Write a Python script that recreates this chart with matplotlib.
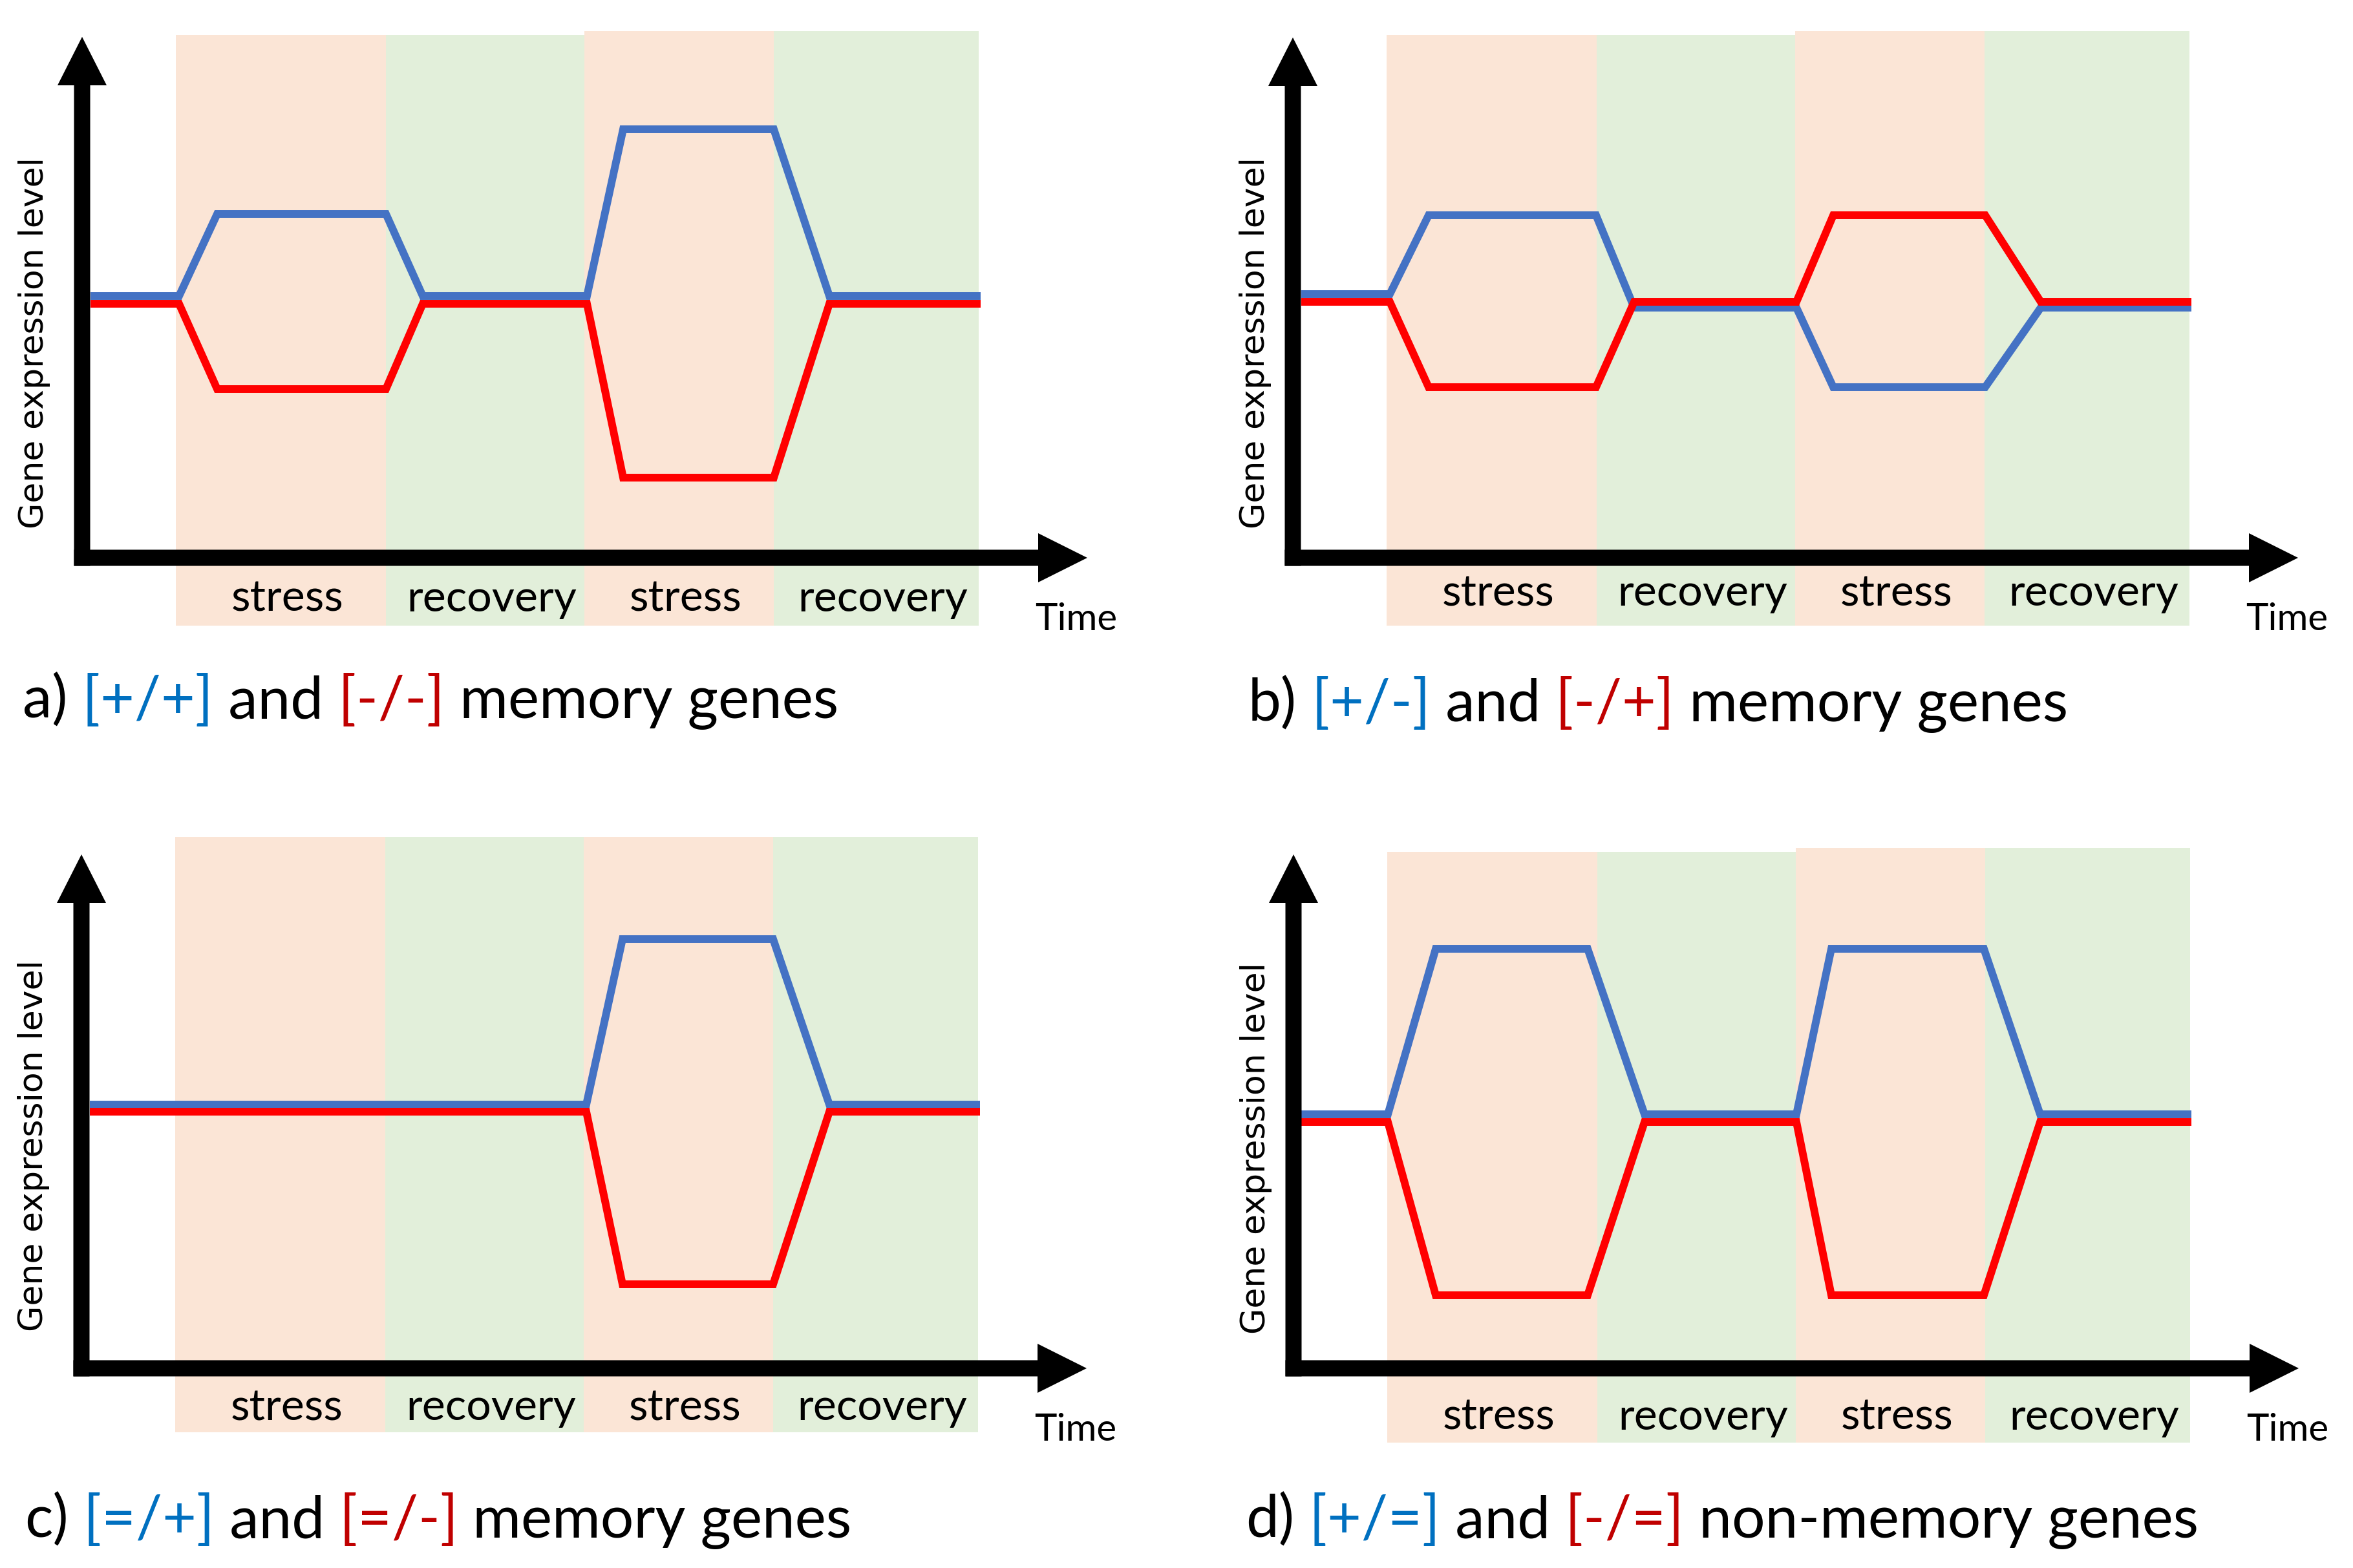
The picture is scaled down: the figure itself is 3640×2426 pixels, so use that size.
import matplotlib
matplotlib.use('Agg')
import matplotlib.pyplot as plt
from matplotlib import transforms

plt.rcParams['font.family'] = ['Lato', 'DejaVu Sans']

# --- data -------------------------------------------------------------
# phases along the time axis (shared by the four panels)
phase_edges = [1.45, 4.70, 7.77, 10.70, 13.87]
phase_names = ['stress', 'recovery', 'stress', 'recovery']
phase_colors = ['#FBE5D6', '#E2EFDA', '#FBE5D6', '#E2EFDA']

# bend points of the two expression curves, per panel
t_a = [0.13, 1.50, 2.09, 4.70, 5.27, 7.81, 8.37, 10.70, 11.56, 13.90]
blue_a = [4.05, 4.05, 5.32, 5.32, 4.05, 4.05, 6.63, 6.63, 4.05, 4.05]
red_a = [3.93, 3.93, 2.61, 2.61, 3.93, 3.93, 1.24, 1.24, 3.93, 3.93]

t_b = [0.13, 1.50, 2.10, 4.69, 5.28, 7.79, 8.36, 10.71, 11.57, 13.90]
blue_b = [4.08, 4.08, 5.30, 5.30, 3.87, 3.87, 2.64, 2.64, 3.87, 3.87]
red_b = [3.96, 3.96, 2.64, 2.64, 3.96, 3.96, 5.30, 5.30, 3.96, 3.96]

t_c = [0.13, 7.81, 8.37, 10.70, 11.57, 13.90]
blue_c = [4.08, 4.08, 6.64, 6.64, 4.08, 4.08]
red_c = [3.97, 3.97, 1.30, 1.30, 3.97, 3.97]

t_d = [0.12, 1.46, 2.20, 4.55, 5.43, 7.78, 8.32, 10.68, 11.55, 13.89]
blue_d = [3.93, 3.93, 6.49, 6.49, 3.93, 3.93, 6.49, 6.49, 3.93, 3.93]
red_d = [3.81, 3.81, 1.13, 1.13, 3.81, 3.81, 1.13, 1.13, 3.81, 3.81]

# captions: pieces of text and their colours
cap_a = ['a)', ' [+/+]', ' and', ' [-/-]', ' memory genes']
cap_b = ['b)', ' [+/-]', ' and', ' [-/+]', ' memory genes']
cap_c = ['c)', ' [=/+]', ' and', ' [=/-]', ' memory genes']
cap_d = ['d)', ' [+/=]', ' and', ' [-/=]', ' non-memory genes']

BLUE = '#4472C4'
RED = '#FF0000'
cap_colors = ['black', '#0070C0', 'black', '#C00000', 'black']

# --- layout (pixels of the 3640x2426 canvas) --------------------------
W, H = 3640, 2426
panels = [
    # quadrant (left, top), axis origin (x, y), curves, bg tops, bg bottom,
    # label baseline, ylabel x, ylabel y, caption x, caption y, y-arrow tip
    dict(q=(0, 0), o=(127, 863), t=t_a, blue=blue_a, red=red_a,
         tops=[8.09, 8.09, 8.15, 8.15], bot=-1.05, lab=-0.83,
         ylx=-0.74, yly=3.33, cx=-0.92, cy=-2.48, ytip=8.06, cap=cap_a),
    dict(q=(1820, 0), o=(2000, 863), t=t_b, blue=blue_b, red=red_b,
         tops=[8.09, 8.09, 8.15, 8.15], bot=-1.05, lab=-0.74,
         ylx=-0.58, yly=3.33, cx=-0.69, cy=-2.53, ytip=8.05, cap=cap_b),
    dict(q=(0, 1213), o=(126, 2117), t=t_c, blue=blue_c, red=red_c,
         tops=[8.22, 8.22, 8.22, 8.22], bot=-0.99, lab=-0.80,
         ylx=-0.74, yly=3.45, cx=-0.88, cy=-2.62, ytip=7.95, cap=cap_c),
    dict(q=(1820, 1213), o=(2001, 2117), t=t_d, blue=blue_d, red=red_d,
         tops=[7.99, 7.99, 8.05, 8.05], bot=-1.15, lab=-0.95,
         ylx=-0.58, yly=3.40, cx=-0.74, cy=-2.62, ytip=7.95, cap=cap_d),
]

fig = plt.figure(figsize=(W / 100, H / 100), dpi=100)
renderer = fig.canvas.get_renderer()


def rainbow_text(ax, x, y, pieces, colors, size):
    tr = ax.transData
    for s, c in zip(pieces, colors):
        txt = ax.text(x, y, s, color=c, fontsize=size, transform=tr,
                      va='baseline', ha='left')
        txt.draw(renderer)
        ex = txt.get_window_extent(renderer)
        tr = transforms.offset_copy(txt.get_transform(), fig=fig,
                                    x=ex.width, units='dots')


for p in panels:
    qx, qy = p['q']
    ox, oy = p['o']
    ax = fig.add_axes([qx / W, 1 - (qy + 1213) / H, 1820 / W, 1213 / H])
    ax.set_xlim((qx - ox) / 100, (qx + 1820 - ox) / 100)
    ax.set_ylim((oy - qy - 1213) / 100, (oy - qy) / 100)
    ax.axis('off')

    # shaded phases
    lefts = phase_edges[:-1]
    widths = [b - a for a, b in zip(phase_edges[:-1], phase_edges[1:])]
    heights = [top - p['bot'] for top in p['tops']]
    ax.bar(lefts, heights, width=widths, bottom=p['bot'], align='edge',
           color=phase_colors, linewidth=0, zorder=0)
    for a, w, name in zip(lefts, widths, phase_names):
        ax.text(a + w / 2 + 0.1, p['lab'], name, ha='center', va='baseline',
                fontsize=49, zorder=3)

    # curves
    ax.plot(p['t'], p['blue'], color=BLUE, lw=8.6, solid_capstyle='butt',
            solid_joinstyle='miter', zorder=2)
    ax.plot(p['t'], p['red'], color=RED, lw=8.6, solid_capstyle='butt',
            solid_joinstyle='miter', zorder=2)

    # axes arrows
    ax.arrow(-0.125, 0, 15.55 + 0.125, 0, width=0.25, head_width=0.76,
             head_length=0.76, length_includes_head=True, color='black',
             lw=0, zorder=4)
    ax.arrow(0, -0.125, 0, p['ytip'] + 0.125, width=0.25, head_width=0.76,
             head_length=0.75, length_includes_head=True, color='black',
             lw=0, zorder=4)

    ax.text(14.74, -1.12, 'Time', ha='left', va='baseline', fontsize=42)
    ax.text(p['ylx'], p['yly'], 'Gene expression level', rotation=90,
            ha='center', va='center', fontsize=37.5, family='DejaVu Sans')

    rainbow_text(ax, p['cx'], p['cy'], p['cap'], cap_colors, 65.5)

fig.savefig('out.png', dpi=100)
